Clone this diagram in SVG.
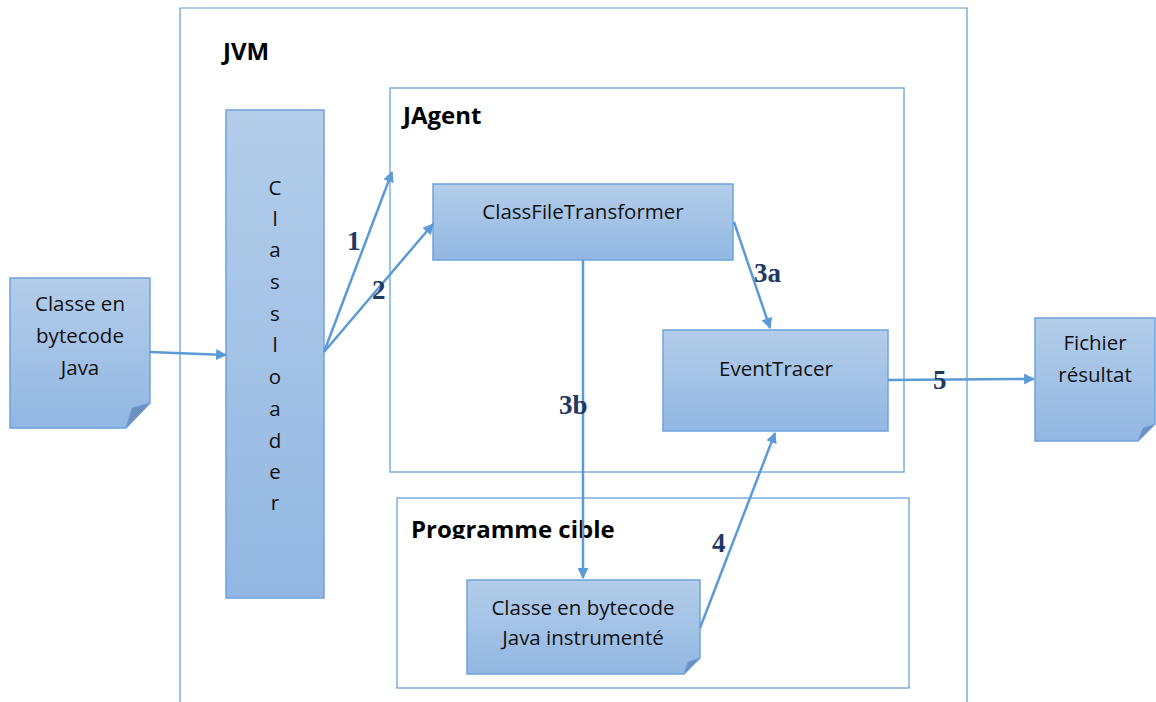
<svg xmlns="http://www.w3.org/2000/svg" width="1156" height="702" viewBox="0 0 1156 702">
<defs>
<linearGradient id="g" x1="0" y1="0" x2="0" y2="1">
<stop offset="0" stop-color="#b3cdea"/>
<stop offset="1" stop-color="#92b7e2"/>
</linearGradient>
<marker id="a" viewBox="0 0 10 10" refX="9" refY="5" markerWidth="11" markerHeight="11" orient="auto" markerUnits="userSpaceOnUse">
<path d="M0,0 L10,5 L0,10 z" fill="#5b9bd5"/>
</marker>
<clipPath id="pc"><rect x="400" y="500" width="300" height="39"/></clipPath>
</defs>
<style>
.frame{fill:#fff;stroke:#5b9bd5;stroke-width:1.2}
.box{fill:url(#g);stroke:#6fa3dc;stroke-width:1.5}
.fold{fill:#6f8fbf;stroke:#6fa3dc;stroke-width:1}
.t{font-family:"Open Sans","Liberation Sans",sans-serif;font-size:20.5px;fill:#111;text-anchor:middle}
.h{font-family:"Open Sans","Liberation Sans",sans-serif;font-size:24px;font-weight:bold;fill:#000}
.n{font-family:"Liberation Serif",serif;font-size:27px;font-weight:bold;fill:#1f3864}
.c{stroke:#5b9bd5;stroke-width:2.5;fill:none;marker-end:url(#a)}
</style>
<rect width="1156" height="702" fill="#fff"/>
<g id="jvm">
<path class="frame" d="M180,702 L180,8 L967,8 L967,702"/>
<text class="h" x="223" y="60">JVM</text>
</g>
<g id="jagent">
<rect class="frame" x="390" y="88" width="514" height="384"/>
<text class="h" x="403" y="124">JAgent</text>
</g>
<g id="programme">
<rect class="frame" x="397" y="498" width="512" height="190"/>
<text class="h" x="411" y="538" clip-path="url(#pc)">Programme cible</text>
</g>
<g id="classloader">
<rect class="box" x="226" y="110" width="98" height="488"/>
<g class="t">
<text x="275" y="195">C</text>
<text x="275" y="226">l</text>
<text x="275" y="257">a</text>
<text x="275" y="289">s</text>
<text x="275" y="321">s</text>
<text x="275" y="352">l</text>
<text x="275" y="384">o</text>
<text x="275" y="416">a</text>
<text x="275" y="448">d</text>
<text x="275" y="479">e</text>
<text x="275" y="510">r</text>
</g>
</g>
<g id="classe">
<path class="box" d="M10,278 L150,278 L150,403 L126,428 L10,428 z"/>
<path class="fold" d="M150,403 L132,408 L126,428 z"/>
<text class="t" x="80" y="311">Classe en</text>
<text class="t" x="80" y="343">bytecode</text>
<text class="t" x="80" y="375">Java</text>
</g>
<g id="cft">
<rect class="box" x="433" y="184" width="300" height="76"/>
<text class="t" x="583" y="219">ClassFileTransformer</text>
</g>
<g id="eventtracer">
<rect class="box" x="663" y="330" width="225" height="101"/>
<text class="t" x="776" y="376">EventTracer</text>
</g>
<g id="fichier">
<path class="box" d="M1035,318 L1155,318 L1155,424 L1138,441 L1035,441 z"/>
<path class="fold" d="M1155,424 L1143,428 L1138,441 z"/>
<text class="t" x="1095" y="350">Fichier</text>
<text class="t" x="1095" y="382">résultat</text>
</g>
<g id="instrumente">
<path class="box" d="M467,580 L700,580 L700,658 L684,674 L467,674 z"/>
<path class="fold" d="M700,658 L688,662 L684,674 z"/>
<text class="t" x="583" y="615">Classe en bytecode</text>
<text class="t" x="583" y="645">Java instrumenté</text>
</g>
<g id="connectors">
<line class="c" x1="150" y1="352" x2="226" y2="355"/>
<line class="c" x1="324" y1="352" x2="392" y2="172"/>
<line class="c" x1="324" y1="352" x2="433" y2="224"/>
<line class="c" x1="734" y1="222" x2="770" y2="328"/>
<line class="c" x1="583" y1="260" x2="583" y2="578"/>
<line class="c" x1="700" y1="628" x2="775" y2="433"/>
<line class="c" x1="888" y1="380" x2="1034" y2="379"/>
<text class="n" x="347" y="250">1</text>
<text class="n" x="372" y="299">2</text>
<text class="n" x="754" y="282">3a</text>
<text class="n" x="559" y="414">3b</text>
<text class="n" x="712" y="552">4</text>
<text class="n" x="933" y="389">5</text>
</g>
</svg>
